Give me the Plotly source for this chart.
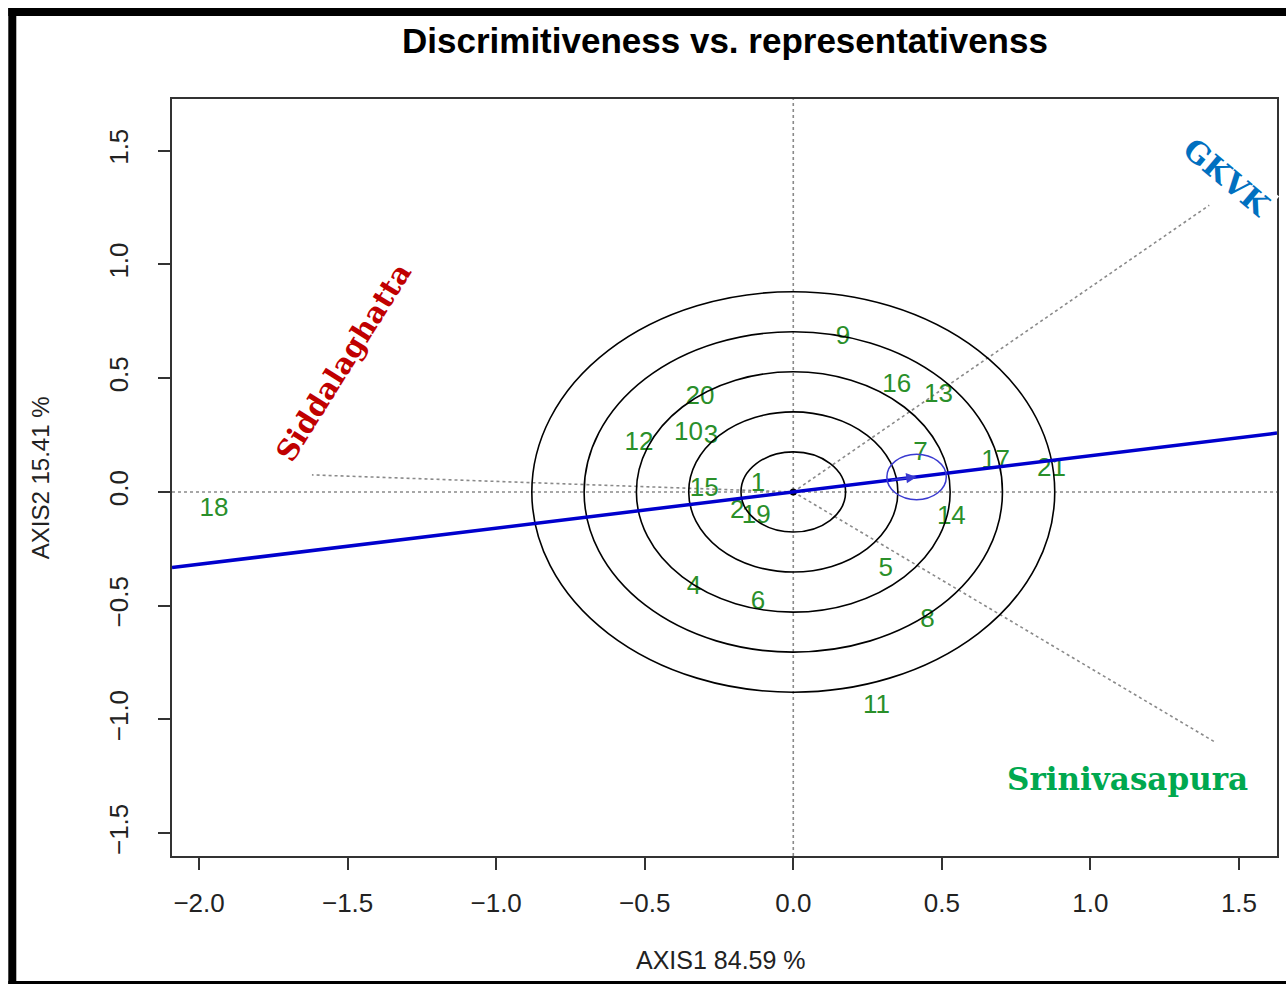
import numpy as np
import plotly.graph_objects as go

# ---------------- data ----------------
genotypes = ["18", "20", "12", "10", "3", "15", "1", "2", "19", "9", "16", "13",
             "7", "17", "21", "14", "5", "8", "11", "4", "6"]
axis1 = [-1.950, -0.314, -0.519, -0.353, -0.277, -0.300, -0.119, -0.189, -0.125,
         0.167, 0.348, 0.489, 0.428, 0.681, 0.869, 0.532, 0.311, 0.452, 0.280,
         -0.334, -0.119]
axis2 = [-0.075, 0.413, 0.211, 0.255, 0.242, 0.009, 0.031, -0.088, -0.110,
         0.681, 0.470, 0.426, 0.167, 0.132, 0.097, -0.114, -0.343, -0.563, -0.941,
         -0.418, -0.484]

env_names = ["GKVK", "Siddalaghatta", "Srinivasapura"]
env_x = [1.40, -1.62, 1.42]
env_y = [1.26, 0.075, -1.10]

circle_radii = [0.176, 0.352, 0.528, 0.704, 0.880]
aec_x, aec_y = 0.415, 0.066      # average environment coordinate
aec_radius = 0.10

x_ticks = [-2.0, -1.5, -1.0, -0.5, 0.0, 0.5, 1.0, 1.5]
y_ticks = [-1.5, -1.0, -0.5, 0.0, 0.5, 1.0, 1.5]

x_range = [-2.091, 1.628]
y_range = [-1.600, 1.727]

title = "Discrimitiveness vs. representativenss"
x_title = "AXIS1 84.59 %"
y_title = "AXIS2 15.41 %"

# ---------------- figure ----------------
W, H = 1286, 984
L, R, T, B = 172, 7, 99, 128
pw, ph = W - L - R, H - T - B


def px(xp):
    return (xp - L) / pw


def py(yp):
    return (H - B - yp) / ph


fig = go.Figure()
shapes = []

dot = dict(color="#8a8a8a", width=1.6, dash="dot")
# reference axes through origin
shapes.append(dict(type="line", xref="x", yref="y", x0=x_range[0], x1=x_range[1], y0=0, y1=0, line=dot, layer="below"))
shapes.append(dict(type="line", xref="x", yref="y", x0=0, x1=0, y0=y_range[0], y1=y_range[1], line=dot, layer="below"))
# environment vectors
for ex, ey in zip(env_x, env_y):
    shapes.append(dict(type="line", xref="x", yref="y", x0=0, y0=0, x1=ex, y1=ey, line=dot, layer="below"))

# concentric circles
for r in circle_radii:
    shapes.append(dict(type="circle", xref="x", yref="y", x0=-r, x1=r, y0=-r, y1=r,
                       line=dict(color="black", width=1.6)))

# AEC line
slope = aec_y / aec_x
shapes.append(dict(type="line", xref="x", yref="y", x0=x_range[0], y0=slope * x_range[0],
                   x1=x_range[1], y1=slope * x_range[1], line=dict(color="#0000CD", width=3.5)))
# AEC circle
shapes.append(dict(type="circle", xref="x", yref="y", x0=aec_x - aec_radius, x1=aec_x + aec_radius,
                   y0=aec_y - aec_radius, y1=aec_y + aec_radius, line=dict(color="#3a3ad0", width=1.5)))

# outer black frame (image border)
shapes.append(dict(type="line", xref="paper", yref="paper", x0=px(12), x1=px(12), y0=py(8), y1=py(990),
                   line=dict(color="black", width=8)))
shapes.append(dict(type="line", xref="paper", yref="paper", x0=px(8), x1=px(1300), y0=py(12), y1=py(12),
                   line=dict(color="black", width=8)))
shapes.append(dict(type="line", xref="paper", yref="paper", x0=px(8), x1=px(1300), y0=py(983), y1=py(983),
                   line=dict(color="black", width=4)))

# genotype labels
fig.add_trace(go.Scatter(x=axis1, y=axis2, mode="text", text=genotypes,
                         textposition="middle center",
                         textfont=dict(family="Liberation Sans, Arial", size=26, color="#2a8f2a"),
                         hoverinfo="skip", showlegend=False))
# origin dot
fig.add_trace(go.Scatter(x=[0], y=[0], mode="markers", marker=dict(color="black", size=7),
                         hoverinfo="skip", showlegend=False))

annotations = []
# arrow to average environment
annotations.append(dict(x=aec_x, y=aec_y, ax=aec_x - 0.09, ay=aec_y - 0.09 * slope,
                        xref="x", yref="y", axref="x", ayref="y", showarrow=True,
                        arrowhead=2, arrowsize=1.6, arrowwidth=1.3, arrowcolor="#3a3ad0", text=""))

C = dict(xanchor="center", yanchor="middle", xref="paper", yref="paper", showarrow=False)
# environment names
serif = "DejaVu Serif, Liberation Serif, serif"
annotations.append(dict(x=px(1229), y=py(177), text="<b>GKVK</b>", textangle=40, bgcolor="white",
                        font=dict(family=serif, size=30, color="#0070C0"), **C))
annotations.append(dict(x=px(344), y=py(362), text="<b>Siddalaghatta</b>", textangle=-58, bgcolor="white",
                        font=dict(family=serif, size=29, color="#C00000"), **C))
annotations.append(dict(x=px(1129), y=py(779), text="<b>Srinivasapura</b>", bgcolor="white",
                        font=dict(family=serif, size=31, color="#00A84F"), **C))

# titles
annotations.append(dict(x=px(726), y=py(40), text="<b>" + title + "</b>",
                        font=dict(family="Liberation Sans, Arial", size=35, color="black"), **C))
annotations.append(dict(x=px(722), y=py(960), text=x_title,
                        font=dict(family="Liberation Sans, Arial", size=25, color="#222"), **C))
annotations.append(dict(x=px(40), y=py(478), text=y_title, textangle=-90,
                        font=dict(family="Liberation Sans, Arial", size=24, color="#222"), **C))

axis_common = dict(showgrid=False, zeroline=False, showline=True, mirror=True, linecolor="#333",
                   linewidth=1.6, ticks="outside", ticklen=12, tickwidth=1.6, tickcolor="#333",
                   tickfont=dict(family="Liberation Sans, Arial", size=26, color="#222"))

fig.update_layout(
    width=W, height=H, margin=dict(l=L, r=R, t=T, b=B),
    paper_bgcolor="white", plot_bgcolor="white",
    shapes=shapes, annotations=annotations,
    xaxis=dict(range=x_range, tickvals=x_ticks, ticktext=[f"{v:.1f}".replace("-", "\u2212") for v in x_ticks],
               ticklabelstandoff=11, **axis_common),
    yaxis=dict(range=y_range, tickvals=y_ticks, ticktext=[f"{v:.1f}".replace("-", "\u2212") for v in y_ticks],
               tickangle=-90, ticklabelstandoff=20, **axis_common),
    showlegend=False,
)

fig.write_html("out.html")
